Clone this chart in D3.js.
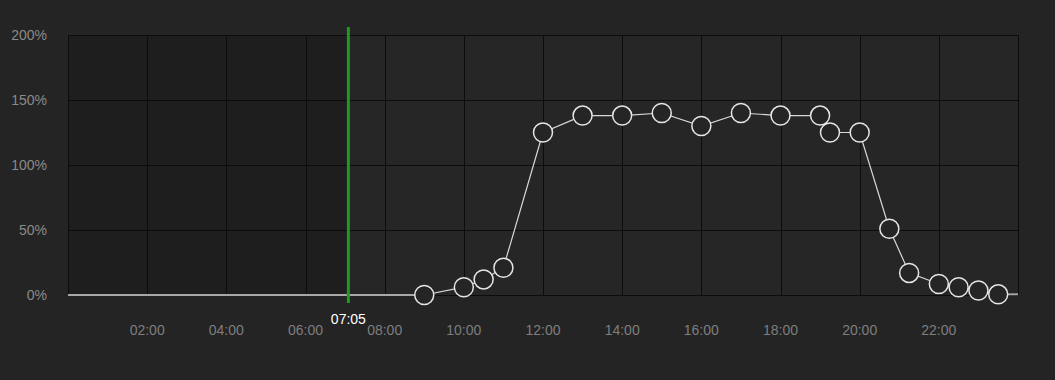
<!DOCTYPE html>
<html><head><meta charset="utf-8">
<script src="https://cdn.jsdelivr.net/npm/d3@7"></script>
<style>
html,body{margin:0;padding:0;background:#242424;}
svg{display:block;}
text{font-family:"Liberation Sans",Arial,sans-serif;}
</style></head>
<body><svg id="c" width="1055" height="380"></svg>
<script>
const times = ["09:00","10:00","10:30","11:00","12:00","13:00","14:00","15:00","16:00","17:00","18:00","19:00","19:15","20:00","20:45","21:15","22:00","22:30","23:00","23:30"];
const values = [0,6,12,21,125,138,138,140,130,140,138,138,125,125,51,17,8.5,6,3.5,0.5];
const xTickLabels = ["02:00","04:00","06:00","08:00","10:00","12:00","14:00","16:00","18:00","20:00","22:00"];
const yTicks = [0,50,100,150,200];
const markerTime = "07:05";

const toH = s => { const [h,m] = s.split(":").map(Number); return h + m/60; };
const data = times.map((t,i)=>({h:toH(t), v:values[i]}));

const svg = d3.select("#c");
const L=68, R=1018, T=35, B=295;
const x = d3.scaleLinear().domain([0,24]).range([L,R]);
const y = d3.scaleLinear().domain([0,200]).range([B,T]);
const mh = toH(markerTime);

// plot backgrounds
svg.append("rect").attr("x",L).attr("y",T).attr("width",R-L).attr("height",B-T).attr("fill","#262626");
svg.append("rect").attr("x",L).attr("y",T).attr("width",x(mh)-L).attr("height",B-T).attr("fill","#1e1e1e");

// grid
const g = svg.append("g").attr("stroke","#0c0c0c").attr("stroke-width",1);
yTicks.forEach(v=>{
  g.append("line").attr("x1",L).attr("x2",R).attr("y1",Math.round(y(v))+0.5).attr("y2",Math.round(y(v))+0.5);
});
xTickLabels.map(toH).concat([0,24]).forEach(h=>{
  g.append("line").attr("y1",T).attr("y2",B).attr("x1",Math.round(x(h))+0.5).attr("x2",Math.round(x(h))+0.5);
});

// y labels
svg.append("g").selectAll("text").data(yTicks).join("text")
  .attr("x",47).attr("y",d=>y(d)+5).attr("text-anchor","end")
  .attr("fill","#8a8a8a").attr("font-size",14).text(d=>d+"%");

// x labels
svg.append("g").selectAll("text").data(xTickLabels).join("text")
  .attr("x",d=>x(toH(d))).attr("y",335).attr("text-anchor","middle")
  .attr("fill","#7e7e7e").attr("font-size",14).text(d=>d);

// baseline lead-in / trail
svg.append("line").attr("x1",x(0)).attr("x2",x(data[0].h)).attr("y1",y(0)).attr("y2",y(0))
  .attr("stroke","#a8a8a8").attr("stroke-width",2);
const last = data[data.length-1];
svg.append("line").attr("x1",x(last.h)).attr("x2",x(24)).attr("y1",y(last.v)).attr("y2",y(last.v))
  .attr("stroke","#a8a8a8").attr("stroke-width",2);

// marker line
svg.append("line").attr("x1",x(mh)).attr("x2",x(mh)).attr("y1",27).attr("y2",303)
  .attr("stroke","#1f9a1f").attr("stroke-width",3);
svg.append("text").attr("x",x(mh)).attr("y",324).attr("text-anchor","middle")
  .attr("fill","#ffffff").attr("font-size",14).text(markerTime);

// series line
svg.append("path").datum(data)
  .attr("d",d3.line().x(d=>x(d.h)).y(d=>y(d.v)))
  .attr("fill","none").attr("stroke","#d8d8d8").attr("stroke-width",1.2);

// markers
svg.append("g").selectAll("circle").data(data).join("circle")
  .attr("cx",d=>x(d.h)).attr("cy",d=>y(d.v)).attr("r",9.5)
  .attr("fill","#252525").attr("stroke","#e6e6e6").attr("stroke-width",1.5);
</script></body></html>
